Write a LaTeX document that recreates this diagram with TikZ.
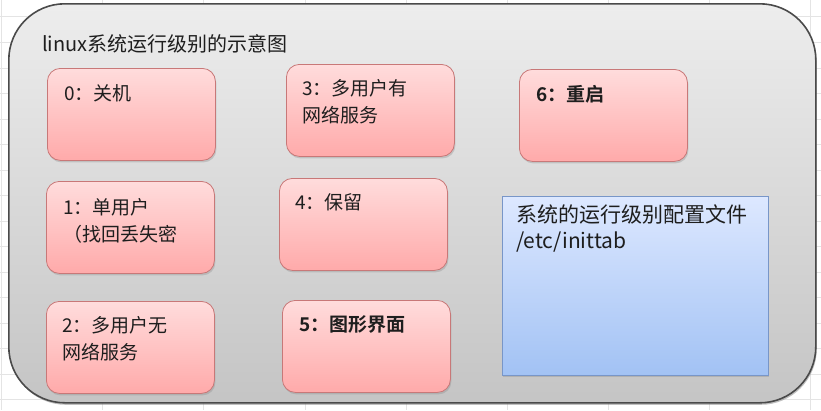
\documentclass[tikz,border=0pt]{standalone}
\usepackage{fontspec}
\setmainfont{Noto Sans CJK SC}[BoldFont={Noto Sans CJK SC Bold}]
\usetikzlibrary{shadows}
\definecolor{gridc}{HTML}{E4E4E4}
\definecolor{frame}{HTML}{4A4A4A}
\definecolor{pinkT}{HTML}{FFDCDC}
\definecolor{pinkB}{HTML}{FFAAAA}
\definecolor{pinkD}{HTML}{C87878}
\definecolor{blueT}{HTML}{DDE8FF}
\definecolor{blueB}{HTML}{A2C2F4}
\definecolor{blueD}{HTML}{7896C8}
\definecolor{txt}{HTML}{1E1E1E}
\tikzset{
  mainbox/.style={draw=frame, line width=1.6pt, rounded corners=56pt,
    top color=white!93!black, bottom color=white!77!black,
    drop shadow={shadow xshift=1pt, shadow yshift=-2pt, opacity=0.5},
    minimum width=807pt, minimum height=399pt, inner sep=0pt},
  pinkbox/.style={draw=pinkD, line width=0.8pt, rounded corners=13pt,
    top color=pinkT, bottom color=pinkB,
    drop shadow={shadow xshift=1pt, shadow yshift=-2pt, opacity=0.3},
    minimum width=168pt, minimum height=92pt, inner sep=0pt},
  bluebox/.style={draw=blueD, line width=0.8pt,
    top color=blueT, bottom color=blueB,
    drop shadow={shadow xshift=1pt, shadow yshift=-2pt, opacity=0.3},
    minimum width=266pt, minimum height=179pt, inner sep=0pt},
  lbl/.style={anchor=west, inner sep=0pt, text=txt, font=\fontsize{19}{27}\selectfont, align=left},
  ttl/.style={anchor=west, inner sep=0pt, text=txt, font=\fontsize{20}{22}\selectfont},
  bluelbl/.style={anchor=west, inner sep=0pt, text=txt, font=\fontsize{21}{26}\selectfont, align=left}
}
\begin{document}
\begin{tikzpicture}[x=1pt,y=-1pt]
\useasboundingbox (0,0) rectangle (821,410);
\fill[white] (0,0) rectangle (821,410);
% spreadsheet grid
\foreach \gx in {1,102,203,305,406,507,608,709,810}
  \draw[gridc, line width=0.6pt] (\gx,0) -- (\gx,410);
\foreach \gy in {16,42,68,93,119,144,170,195,221,246,272,297,323,348,374,399}
  \draw[gridc, line width=0.6pt] (0,\gy) -- (821,\gy);
% main container
\node[mainbox, anchor=north west] (main) at (8,3) {};
\node[ttl] (title) at (42,44) {linux系统运行级别的示意图};
% level boxes
\node[pinkbox, anchor=north west] (b0) at (47,68) {};
\node[pinkbox, anchor=north west] (b3) at (286,64) {};
\node[pinkbox, anchor=north west] (b6) at (519,69) {};
\node[pinkbox, anchor=north west] (b1) at (46,181) {};
\node[pinkbox, anchor=north west] (b4) at (279,178) {};
\node[pinkbox, anchor=north west] (b2) at (46,301) {};
\node[pinkbox, anchor=north west] (b5) at (282,300) {};
\node[bluebox, anchor=north west] (cfg) at (502,196) {};
% labels
\node[lbl] (t0) at (64,93) {0：关机};
\node[lbl] (t3) at (302,101.5) {3：多用户有\\网络服务};
\node[lbl] (t6) at (536,94) {\bfseries 6：重启};
\node[lbl] (t1) at (63,220.5) {1：单用户\\（找回丢失密};
\node[lbl] (t4) at (295,202) {4：保留};
\node[lbl] (t2) at (62,338.5) {2：多用户无\\网络服务};
\node[lbl] (t5) at (299,324) {\bfseries 5：图形界面};
\node[bluelbl] (tc) at (516,228) {系统的运行级别配置文件\\/etc/inittab};
\end{tikzpicture}
\end{document}
